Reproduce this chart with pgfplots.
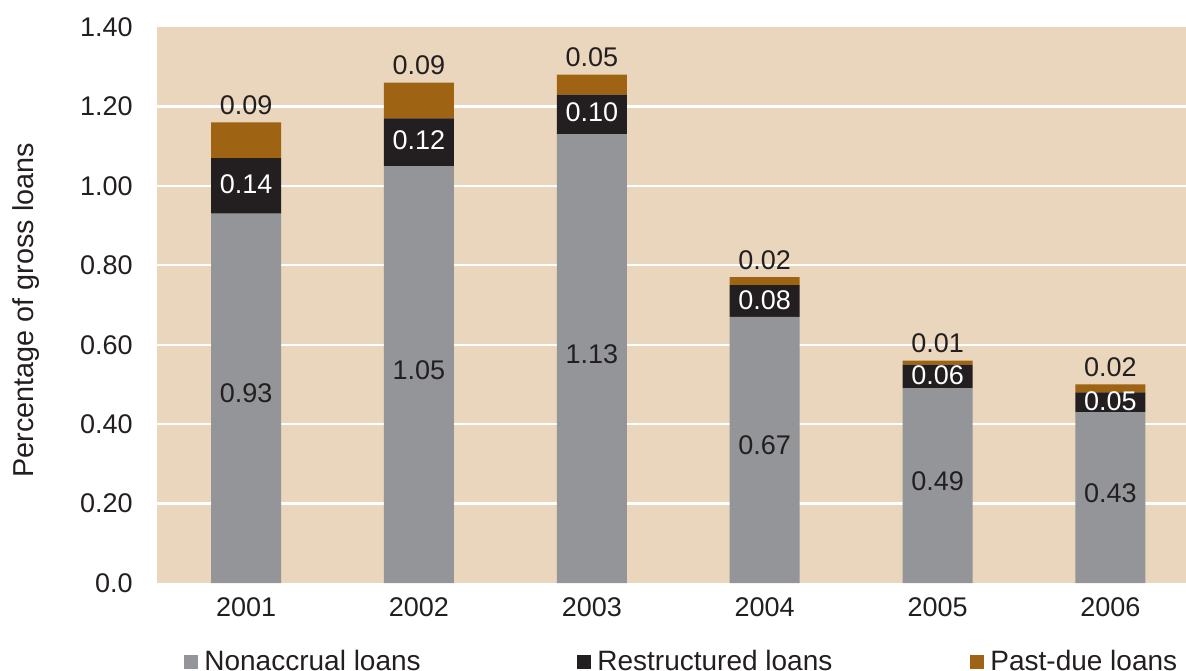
\documentclass[border=0pt]{standalone}
\usepackage{pgfplots}
\pgfplotsset{compat=1.18}
\usepackage{fontspec}
\setmainfont{Liberation Sans}
\definecolor{bgtan}{HTML}{E9D6BC}
\definecolor{nagray}{HTML}{939598}
\definecolor{rsblack}{HTML}{231F20}
\definecolor{pdbrown}{HTML}{9E6413}
\definecolor{txt}{HTML}{231F20}

\begin{document}
\begin{tikzpicture}
\pgfplotsset{
  base/.style={
    width=514.5pt, height=278pt, scale only axis,
    xmin=-0.515, xmax=5.437, ymin=0, ymax=1.4,
  },
  /pgf/number format/assume math mode=true,
  lab/.style={only marks, mark=text, text mark={}, nodes near coords, point meta=explicit symbolic},
}
\begin{axis}[base,
  ybar stacked, bar width=35pt,
  axis background/.style={fill=bgtan},
  axis line style={draw=none},
  tick style={draw=none},
  xtick={0,1,2,3,4,5}, xticklabels={2001,2002,2003,2004,2005,2006},
  ytick={0,0.2,0.4,0.6,0.8,1.0,1.2,1.4},
  yticklabels={0.0,0.20,0.40,0.60,0.80,1.00,1.20,1.40},
  extra y ticks={0.2,0.4,0.6,0.8,1.0,1.2}, extra y tick labels={},
  extra y tick style={ymajorgrids=true, major grid style={white, line width=1.1pt}},
  yticklabel style={font=\fontsize{13.5}{16}\selectfont, text=txt, inner sep=0pt, xshift=-12pt},
  xticklabel style={font=\fontsize{13.5}{16}\selectfont, text=txt, inner sep=0pt, yshift=-7pt},
  ylabel={Percentage of gross loans},
  every axis y label/.style={at={(axis description cs:-0.1273,0.491)}, rotate=90, anchor=center,
    font=\fontsize{14.4}{16}\selectfont, text=txt},
  legend columns=3,
  legend style={at={(rel axis cs:0,0)}, anchor=north west, xshift=10.5pt, yshift=-31.5pt,
    draw=none, fill=none, font=\fontsize{14}{16}\selectfont, text=txt,
    nodes={inner sep=0pt, outer sep=0pt},
    /tikz/every odd column/.append style={column sep=3pt},
    /tikz/every even column/.append style={column sep=0pt}},
  legend image code/.code={\fill[#1] (0pt,-3.5pt) rectangle (7pt,3.5pt);},
]
\addplot[fill=nagray, draw=none] coordinates {(0,0.93) (1,1.05) (2,1.13) (3,0.67) (4,0.49) (5,0.43)};
\addlegendentry{\makebox[186.5pt][l]{Nonaccrual loans}}
\addplot[fill=rsblack, draw=none] coordinates {(0,0.14) (1,0.12) (2,0.10) (3,0.08) (4,0.06) (5,0.05)};
\addlegendentry{\makebox[186.5pt][l]{Restructured loans}}
\addplot[fill=pdbrown, draw=none] coordinates {(0,0.09) (1,0.09) (2,0.05) (3,0.02) (4,0.01) (5,0.02)};
\addlegendentry{Past-due loans}
\coordinate (sw) at (rel axis cs:0,0);
\coordinate (ne) at (rel axis cs:1,1);
\end{axis}
\begin{axis}[base, hide axis]
\addplot[lab, nodes near coords align={center},
  every node near coord/.append style={font=\fontsize{13.5}{16}\selectfont, text=txt}]
  table[meta=lab] {
x y lab
0 0.478 0.93
1 0.537 1.05
2 0.577 1.13
3 0.347 0.67
4 0.257 0.49
5 0.227 0.43
};
\addplot[lab, nodes near coords align={center},
  every node near coord/.append style={font=\fontsize{13.5}{16}\selectfont, text=white}]
  table[meta=lab] {
x y lab
0 1.005 0.14
1 1.115 0.12
2 1.185 0.10
3 0.712 0.08
4 0.522 0.06
5 0.457 0.05
};
\addplot[lab,
  every node near coord/.append style={anchor=south, inner sep=3.5pt, font=\fontsize{13.5}{16}\selectfont, text=txt}]
  table[meta=lab] {
x y lab
0 1.16 0.09
1 1.26 0.09
2 1.28 0.05
3 0.77 0.02
4 0.56 0.01
5 0.50 0.02
};
\end{axis}
\pgfresetboundingbox
\path[use as bounding box] ([xshift=-78.5pt,yshift=-43.5pt]sw) rectangle ([yshift=13.5pt]ne);
\end{tikzpicture}
\end{document}
